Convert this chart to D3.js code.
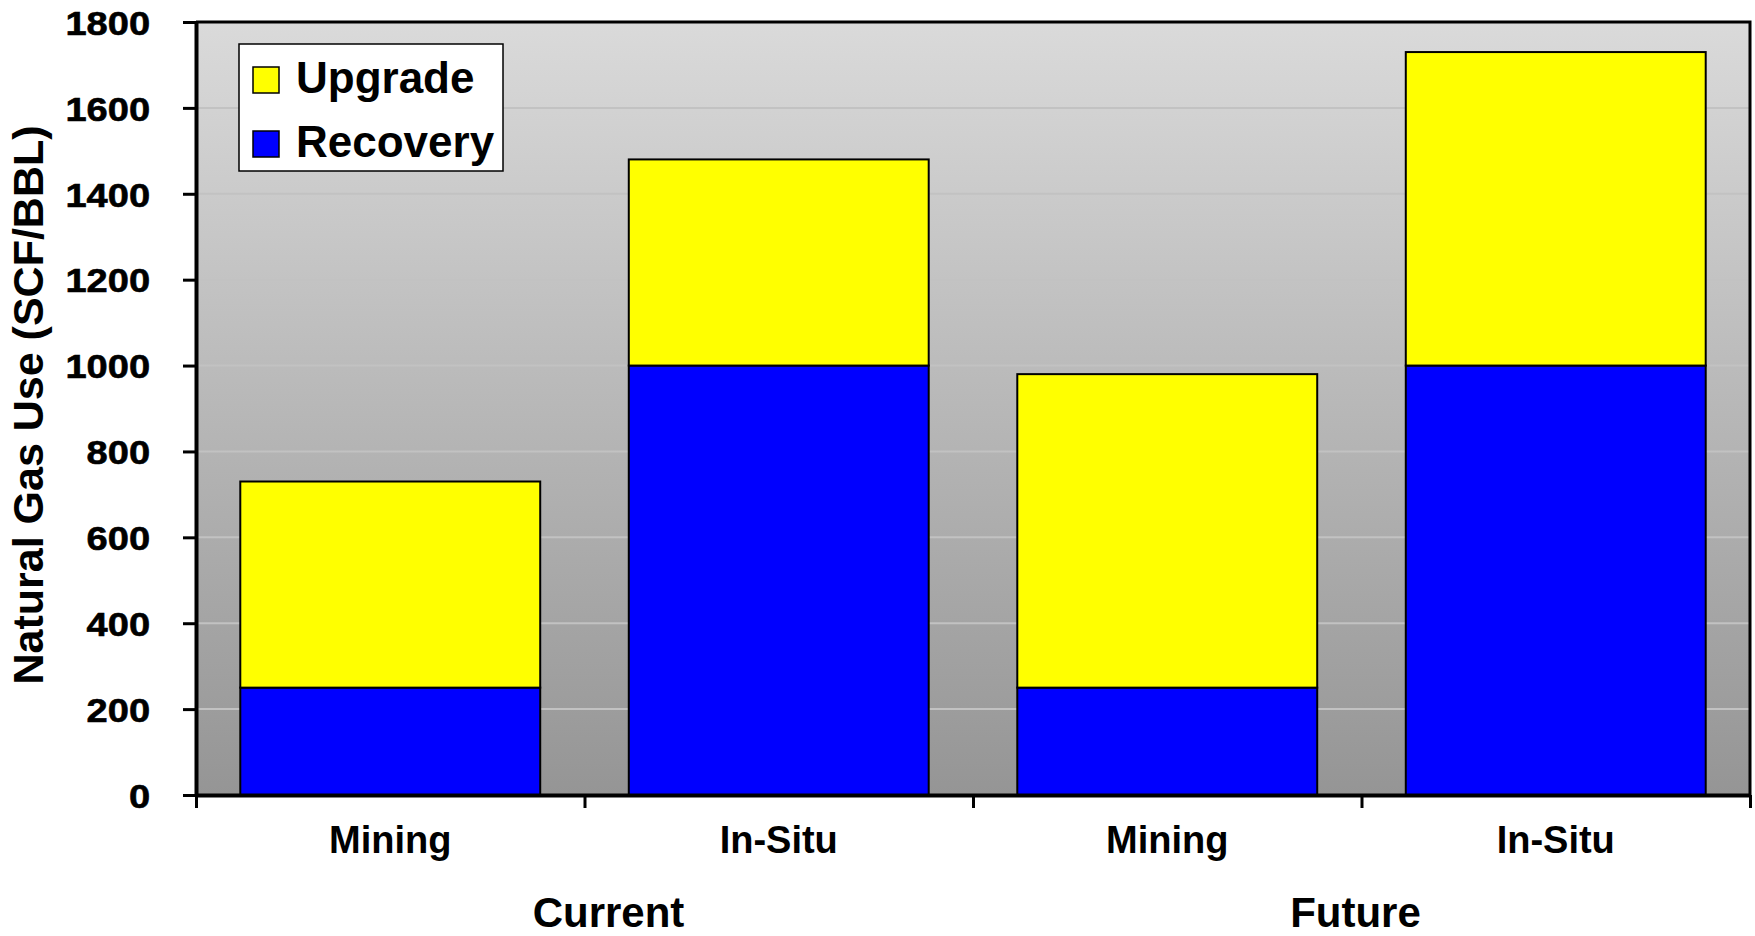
<!DOCTYPE html>
<html>
<head>
<meta charset="utf-8">
<script src="https://cdn.jsdelivr.net/npm/d3@7"></script>
<style>
  html, body { margin: 0; padding: 0; background: #ffffff; }
  svg { display: block; font-family: "Liberation Sans", Arial, Helvetica, sans-serif; font-weight: bold; }
</style>
</head>
<body>
<svg id="chart" width="1755" height="936"></svg>
<script>
// Natural gas use per barrel, by extraction method and time frame
const categories = ["Mining", "In-Situ", "Mining", "In-Situ"];
const groups = ["Current", "Future"];
const recovery = [250, 1000, 250, 1000];
const upgrade = [480, 480, 730, 730];
const seriesNames = ["Recovery", "Upgrade"];
const seriesColors = ["#0000ff", "#ffff00"];
const yTicks = [0, 200, 400, 600, 800, 1000, 1200, 1400, 1600, 1800];
const yTitle = "Natural Gas Use (SCF/BBL)";

const svg = d3.select("#chart");

const plot = { left: 196, right: 1750, top: 22, bottom: 795 };

const keys = categories.map((c, i) => i);
const x = d3.scaleBand()
  .domain(keys)
  .range([plot.left, plot.right])
  .paddingInner(0.228)
  .paddingOuter(0.114);

const y = d3.scaleLinear().domain([0, 1800]).range([plot.bottom, plot.top]);

// Plot area with vertical grey gradient
const defs = svg.append("defs");
const grad = defs.append("linearGradient")
  .attr("id", "bg").attr("x1", 0).attr("y1", 0).attr("x2", 0).attr("y2", 1);
grad.append("stop").attr("offset", "0%").attr("stop-color", "#dadada");
grad.append("stop").attr("offset", "100%").attr("stop-color", "#959595");

svg.append("rect")
  .attr("x", plot.left).attr("y", plot.top)
  .attr("width", plot.right - plot.left).attr("height", plot.bottom - plot.top)
  .attr("fill", "url(#bg)");

// Horizontal gridlines
svg.append("g")
  .selectAll("line")
  .data(yTicks.filter(v => v > 0 && v < 1800))
  .join("line")
  .attr("x1", plot.left).attr("x2", plot.right)
  .attr("y1", d => y(d)).attr("y2", d => y(d))
  .attr("stroke", "#c2c2c2")
  .attr("stroke-width", 2);

// Stacked bars
const rows = keys.map(i => ({ key: i, Recovery: recovery[i], Upgrade: upgrade[i] }));
const stacked = d3.stack().keys(seriesNames)(rows);

svg.append("g")
  .selectAll("g")
  .data(stacked)
  .join("g")
  .attr("fill", (d, i) => seriesColors[i])
  .selectAll("rect")
  .data(d => d)
  .join("rect")
  .attr("x", d => x(d.data.key))
  .attr("width", x.bandwidth())
  .attr("y", d => y(d[1]))
  .attr("height", d => y(d[0]) - y(d[1]))
  .attr("stroke", "#000")
  .attr("stroke-width", 2);

// Frame: top and right edges
svg.append("path")
  .attr("d", `M${plot.left},${plot.top}H${plot.right}V${plot.bottom}`)
  .attr("fill", "none").attr("stroke", "#000").attr("stroke-width", 3);

// Y axis
const yAxis = svg.append("g")
  .attr("transform", `translate(${plot.left},0)`)
  .call(d3.axisLeft(y).tickValues(yTicks).tickFormat(d3.format("d"))
    .tickSize(13).tickSizeOuter(0).tickPadding(24));
yAxis.select(".domain").attr("stroke-width", 4);
yAxis.selectAll(".tick line").attr("stroke-width", 3);
yAxis.selectAll(".tick text")
  .attr("font-size", 34)
  .attr("font-weight", "bold")
  .attr("font-family", "'Liberation Sans', Arial, sans-serif")
  .attr("fill", "#000")
  .attr("stroke", "#000")
  .attr("stroke-width", 0.6)
  .attr("dy", "0.36em")
  .attr("transform", function () {
    const tx = +d3.select(this).attr("x");
    return `translate(${tx * 0.12},0) scale(1.12,1)`;
  });

// X axis: ticks at category boundaries
const edges = d3.scaleLinear().domain([0, categories.length]).range([plot.left, plot.right]);
const xAxis = svg.append("g")
  .attr("transform", `translate(0,${plot.bottom})`)
  .call(d3.axisBottom(edges).tickValues(d3.range(categories.length + 1)).tickFormat("").tickSize(13).tickSizeOuter(0));
xAxis.select(".domain").attr("stroke-width", 4);
xAxis.selectAll(".tick line").attr("stroke-width", 3);

// Category labels
svg.append("g")
  .selectAll("text")
  .data(keys)
  .join("text")
  .attr("x", d => x(d) + x.bandwidth() / 2)
  .attr("y", 853)
  .attr("text-anchor", "middle")
  .attr("font-size", 38)
  .text(d => categories[d]);

// Group labels beneath each pair of categories
const groupShift = [24, -6];
svg.append("g")
  .selectAll("text")
  .data(groups)
  .join("text")
  .attr("x", (g, i) => (x(i * 2) + x(i * 2 + 1) + x.bandwidth()) / 2 + groupShift[i])
  .attr("y", 927)
  .attr("text-anchor", "middle")
  .attr("font-size", 42)
  .text(d => d);

// Y axis title
svg.append("text")
  .attr("transform", "translate(43,405) rotate(-90)")
  .attr("text-anchor", "middle")
  .attr("font-size", 43)
  .text(yTitle);

// Legend
const legend = svg.append("g");
legend.append("rect")
  .attr("x", 239).attr("y", 44).attr("width", 264).attr("height", 127)
  .attr("fill", "#fff").attr("stroke", "#000").attr("stroke-width", 1.5);

const legendItems = ["Upgrade", "Recovery"];
const legendRows = legend.selectAll("g.item")
  .data(legendItems)
  .join("g")
  .attr("class", "item")
  .attr("transform", (d, i) => `translate(253,${67 + i * 64})`);
legendRows.append("rect")
  .attr("width", 26).attr("height", 26)
  .attr("fill", d => seriesColors[seriesNames.indexOf(d)])
  .attr("stroke", "#000").attr("stroke-width", 1.5);
legendRows.append("text")
  .attr("x", 43).attr("y", 26)
  .attr("font-size", 44)
  .text(d => d);
</script>
</body>
</html>
